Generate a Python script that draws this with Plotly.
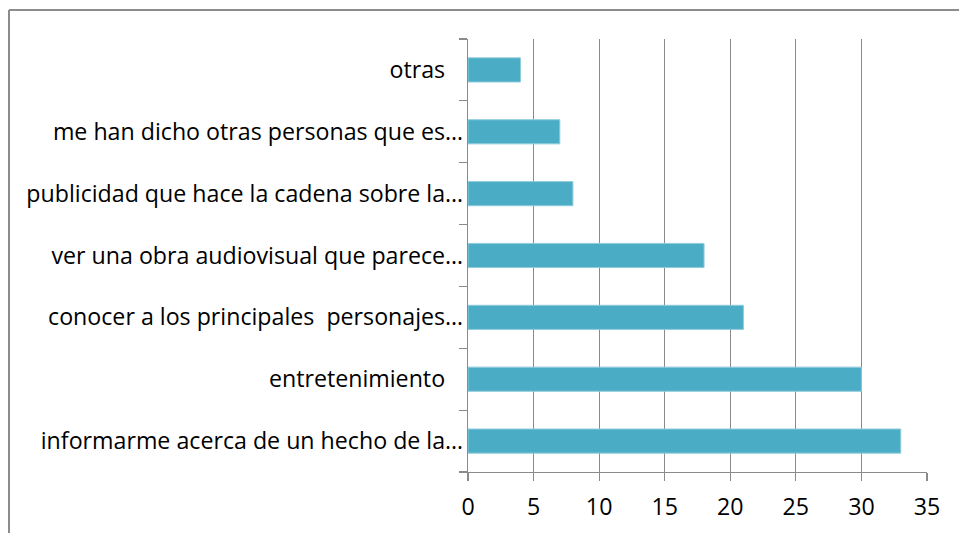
import plotly.graph_objects as go

categories = [
    "informarme acerca de un hecho de la…",
    "entretenimiento\u00a0\u00a0\u00a0",
    "conocer a los principales  personajes…",
    "ver una obra audiovisual que parece…",
    "publicidad que hace la cadena sobre la…",
    "me han dicho otras personas que es…",
    "otras\u00a0\u00a0\u00a0",
]
values = [33, 30, 21, 18, 8, 7, 4]
x_ticks = [0, 5, 10, 15, 20, 25, 30, 35]

W, H = 959, 533
ML, MT = 468, 39
PW, PH = 459, 433
MR = W - ML - PW
MB = H - MT - PH
GRAY = "#8a8a8a"
FONT = "Open Sans"

fig = go.Figure(go.Bar(
    y=categories, x=values, orientation="h",
    marker=dict(color="#4BACC6", line=dict(color="#8FCBDB", width=1)),
    width=0.39,
))

# chart-area border: only top and left edges are visible in the window
bx0 = (9 - ML) / PW
bx1 = (W + 40 - ML) / PW
by1 = 1 + (MT - 10) / PH
by0 = -(H + 40 - MT - PH) / PH
border = dict(color="#8c8c8c", width=2)
fig.add_shape(type="line", xref="paper", yref="paper", x0=bx0, x1=bx1, y0=by1, y1=by1, line=border)
fig.add_shape(type="line", xref="paper", yref="paper", x0=bx0, x1=bx0, y0=by0, y1=by1, line=border)

fig.update_layout(
    width=W, height=H,
    margin=dict(l=ML, r=MR, t=MT, b=MB, pad=0),
    paper_bgcolor="white", plot_bgcolor="white",
    showlegend=False,
    font=dict(family=FONT, size=23.2, color="black"),
    xaxis=dict(range=[0, 35], tickvals=x_ticks, ticktext=[str(v) for v in x_ticks],
               showgrid=True, gridcolor=GRAY, gridwidth=1.2,
               showline=True, linecolor=GRAY, linewidth=1.2,
               ticks="outside", ticklen=8, tickcolor=GRAY, tickwidth=1.2,
               ticklabelstandoff=6,
               zeroline=False, fixedrange=True, automargin=False),
    yaxis=dict(type="category", categoryorder="array", categoryarray=categories,
               showgrid=False, showline=True, linecolor=GRAY, linewidth=1.2,
               ticks="outside", ticklen=8, tickcolor=GRAY, tickwidth=1.2,
               tickson="boundaries", ticklabelstandoff=-1, fixedrange=True,
               automargin=False),
)

fig.write_html(
    "out.html",
    config={"displayModeBar": False, "staticPlot": True},
    post_script=(
        "document.documentElement.style.overflow='hidden';"
        "document.body.style.overflow='hidden';"
        "document.body.style.margin='0';"
    ),
)
